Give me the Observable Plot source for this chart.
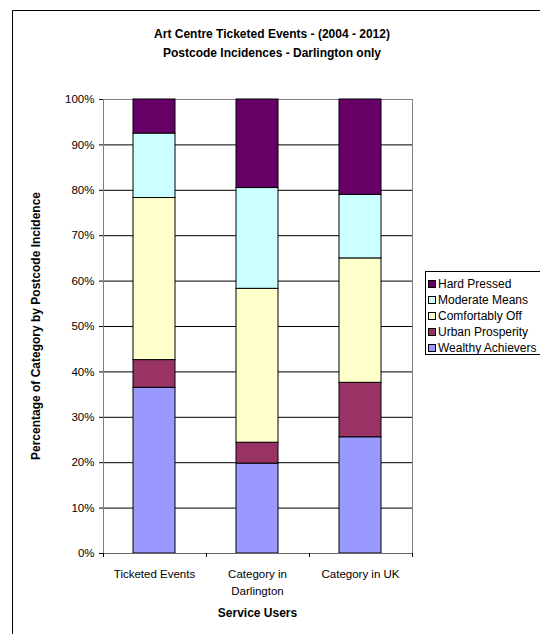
<!DOCTYPE html>
<html><head><meta charset="utf-8">
<script src="https://cdn.jsdelivr.net/npm/d3@7"></script>
<script src="https://cdn.jsdelivr.net/npm/@observablehq/plot@0.6"></script>
<style>
html,body{margin:0;padding:0;background:#fff;}
#chart{width:540px;height:634px;overflow:hidden;}
</style></head><body><div id="chart"></div>
<script>
const categories = ["Ticketed Events", "Category in Darlington", "Category in UK"];
const groups = ["Wealthy Achievers", "Urban Prosperity", "Comfortably Off", "Moderate Means", "Hard Pressed"];
const wealthyAchievers = [36.5, 19.8, 25.6];
const urbanProsperity = [6.1, 4.6, 12.0];
const comfortablyOff = [35.7, 33.9, 27.4];
const moderateMeans = [14.2, 22.2, 14.0];
const hardPressed = [7.5, 19.5, 21.0];
const groupColors = ["#9999FF", "#993366", "#FFFFCC", "#CCFFFF", "#660066"];
const yTicks = [0, 10, 20, 30, 40, 50, 60, 70, 80, 90, 100];
const titleLines = ["Art Centre Ticketed Events - (2004 - 2012)", "Postcode Incidences - Darlington only"];
const xTitle = "Service Users";
const yTitle = "Percentage of Category by Postcode Incidence";

const series = [wealthyAchievers, urbanProsperity, comfortablyOff, moderateMeans, hardPressed];
const data = [];
groups.forEach((g, i) => categories.forEach((c, j) => data.push({category: c, group: g, value: series[i][j]})));

const FONT = "'Liberation Sans', Arial, sans-serif";
const W = 540, H = 634, ML = 103, MR = 128, MT = 99, MB = 81;

const plot = Plot.plot({
  width: W, height: H,
  marginLeft: ML, marginRight: MR, marginTop: MT, marginBottom: MB,
  style: {fontFamily: FONT, fontSize: "11.5px", color: "#000", background: "#fff", overflow: "visible"},
  x: {domain: categories, paddingInner: 0.59, paddingOuter: 0.295, label: null},
  y: {domain: [0, 100], label: null},
  color: {domain: groups, range: groupColors},
  marks: [
    Plot.ruleY(yTicks, {stroke: "#000", strokeWidth: 1}),
    Plot.frame({stroke: "#808080"}),
    Plot.barY(data, {x: "category", y: "value", fill: "group", stroke: "#000", strokeWidth: 1}),
    Plot.axisY({ticks: yTicks, tickSize: 4, tickPadding: 5, tickFormat: d => d + "%", stroke: "#000", fill: "#000", label: null}),
    Plot.axisX({tickSize: 0, tickPadding: 13, lineHeight: 1.45, fill: "#000",
      tickFormat: d => d.replace("in Darlington", "in\nDarlington"), label: null}),
    Plot.ruleY([0], {stroke: "#666"}),
    Plot.ruleX([0], {stroke: "#666", frameAnchor: "left"})
  ]
});

document.getElementById("chart").appendChild(plot);
const svg = d3.select(plot);

// category boundary ticks
const xs = plot.scale("x");
const gap = (xs.step - xs.bandwidth) / 2;
const bounds = categories.map(c => xs.apply(c) - gap);
bounds.push(xs.apply(categories[categories.length - 1]) + xs.bandwidth + gap);
svg.append("g").selectAll("line").data(bounds).join("line")
  .attr("x1", d => Math.round(d) + 0.5).attr("x2", d => Math.round(d) + 0.5)
  .attr("y1", H - MB).attr("y2", H - MB + 4)
  .attr("stroke", "#000");

// outer chart border
svg.append("path").attr("d", `M12.5,${H + 2}V10.5H${W + 2}`).attr("fill", "none").attr("stroke", "#000");

// titles
const tg = svg.append("g").attr("font-family", FONT).attr("font-weight", "bold").attr("font-size", "12px").attr("fill", "#000").attr("text-anchor", "middle");
tg.selectAll("text.t").data(titleLines).join("text").attr("class", "t")
  .attr("x", 272).attr("y", (d, i) => 38 + i * 19).text(d => d);
tg.append("text").attr("x", (ML + W - MR) / 2).attr("y", 617).text(xTitle);
tg.append("text").attr("transform", `translate(40,${(MT + H - MB) / 2}) rotate(-90)`).text(yTitle);

// legend
const lg = svg.append("g").attr("font-family", FONT).attr("font-size", "12px").attr("text-anchor", "start");
lg.append("rect").attr("x", 425.5).attr("y", 271.5).attr("width", 130).attr("height", 83)
  .attr("fill", "#fff").attr("stroke", "#000");
const legendItems = groups.slice().reverse();
const items = lg.selectAll("g.item").data(legendItems).join("g").attr("class", "item")
  .attr("transform", (d, i) => `translate(0,${284 + i * 16})`);
items.append("rect").attr("x", 428.5).attr("y", -3.5).attr("width", 7).attr("height", 7)
  .attr("fill", d => plot.scale("color").apply(d)).attr("stroke", "#000");
items.append("text").attr("x", 438).attr("y", 0).attr("dy", "0.35em").attr("fill", "#000").text(d => d);
</script>
</body></html>
